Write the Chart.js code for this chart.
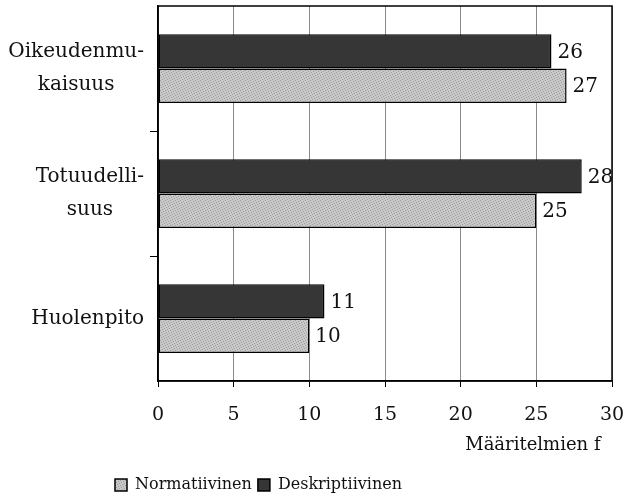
<!DOCTYPE html>
<html>
<head>
<meta charset="utf-8">
<script src="https://cdn.jsdelivr.net/npm/chart.js@4/dist/chart.umd.min.js"></script>
<style>
  html, body { margin: 0; padding: 0; background: #fff; }
  #wrap { width: 624px; height: 497px; }
</style>
</head>
<body>
<div id="wrap"><canvas id="c" width="624" height="497"></canvas></div>
<script>
// Categories (wrapped as in the printed figure) and counts per series
const categories = [['Oikeudenmu-', 'kaisuus'], ['Totuudelli-', 'suus'], 'Huolenpito'];
const deskriptiivinen = [26, 28, 11];
const normatiivinen = [27, 25, 10];
const xMin = 0, xMax = 30, xStep = 5;
const xTitle = 'Määritelmien f';

const FONT = "'DejaVu Serif', 'Liberation Serif', serif";

// stippled light-grey fill
function stipple() {
  const p = document.createElement('canvas');
  p.width = 5; p.height = 5;
  const g = p.getContext('2d');
  g.fillStyle = '#c8c8c8';
  g.fillRect(0, 0, 5, 5);
  g.fillStyle = '#9e9e9e';
  [[0, 0], [3, 1], [1, 2], [4, 3], [2, 4]].forEach(([x, y]) => g.fillRect(x, y, 1, 1));
  return g.createPattern(p, 'repeat');
}
const lightFill = stipple();

// outline the whole plotting area
const frame = {
  id: 'frame',
  beforeDatasetsDraw(chart) {
    const { ctx, chartArea: a } = chart;
    ctx.save();
    ctx.strokeStyle = '#000';
    ctx.lineWidth = 1.5;
    ctx.strokeRect(a.left, a.top, a.right - a.left, a.bottom - a.top);
    ctx.restore();
  }
};

// numeric value printed after each bar
const barValues = {
  id: 'barValues',
  afterDatasetsDraw(chart) {
    const { ctx } = chart;
    ctx.save();
    ctx.font = '20px ' + FONT;
    ctx.fillStyle = '#111';
    ctx.textAlign = 'left';
    ctx.textBaseline = 'middle';
    chart.data.datasets.forEach((ds, di) => {
      chart.getDatasetMeta(di).data.forEach((el, i) => {
        ctx.fillText(String(ds.data[i]), el.x + 6, el.y + 1);
      });
    });
    ctx.restore();
  }
};

// category labels: each block right-aligned to the axis, its lines centred
const categoryLabels = {
  id: 'categoryLabels',
  afterDraw(chart) {
    const { ctx } = chart;
    const ys = chart.scales.y;
    const right = ys.right - 14;
    const lh = 33;
    ctx.save();
    ctx.font = '20px ' + FONT;
    ctx.fillStyle = '#111';
    ctx.textAlign = 'center';
    ctx.textBaseline = 'middle';
    chart.data.labels.forEach((lab, i) => {
      const lines = Array.isArray(lab) ? lab : [lab];
      const w = Math.max(...lines.map(t => ctx.measureText(t).width));
      const cx = right - w / 2;
      const cy = ys.getPixelForTick(i);
      lines.forEach((t, j) => {
        ctx.fillText(t, cx, cy + (j - (lines.length - 1) / 2) * lh);
      });
    });
    ctx.restore();
  }
};

// place the legend under the axis title, slightly left of centre
const legendPlace = {
  id: 'legendPlace',
  afterLayout(chart) {
    const lg = chart.legend;
    if (!lg) return;
    const w = lg.right - lg.left;
    lg.left = 115 - lg.options.labels.padding;
    lg.right = lg.left + w;
    lg.top += 6;
    lg.bottom += 6;
  }
};

// scales keep no extra edge padding for their outer labels
function noEdgePadding(scale) {
  scale.paddingTop = 0;
  scale.paddingBottom = 0;
  scale.paddingLeft = 0;
  scale.paddingRight = 0;
}

new Chart(document.getElementById('c'), {
  type: 'bar',
  data: {
    labels: categories,
    datasets: [
      {
        label: 'Deskriptiivinen',
        data: deskriptiivinen,
        backgroundColor: '#363636',
        borderColor: '#000',
        borderWidth: 1.5,
        borderSkipped: false,
        categoryPercentage: 0.55,
        barPercentage: 1.0
      },
      {
        label: 'Normatiivinen',
        data: normatiivinen,
        backgroundColor: lightFill,
        borderColor: '#000',
        borderWidth: 1.5,
        borderSkipped: false,
        categoryPercentage: 0.55,
        barPercentage: 1.0
      }
    ]
  },
  options: {
    indexAxis: 'y',
    responsive: false,
    animation: false,
    devicePixelRatio: 1,
    layout: { padding: { top: 6, right: 12, left: 0, bottom: 0 } },
    scales: {
      x: {
        min: xMin,
        max: xMax,
        ticks: {
          stepSize: xStep,
          color: '#111',
          font: { family: FONT, size: 19 },
          padding: 17,
          maxRotation: 0
        },
        grid: {
          color: '#8a8a8a',
          lineWidth: 1,
          tickColor: '#000',
          tickLength: 6,
          tickWidth: 1
        },
        border: { display: true, color: '#000', width: 1.5 },
        title: {
          display: true,
          text: xTitle + '  ',
          align: 'end',
          color: '#111',
          font: { family: FONT, size: 18 },
          padding: { top: 0, bottom: 9 }
        },
        afterFit(scale) { scale.height = 84; noEdgePadding(scale); }
      },
      y: {
        ticks: { display: false },
        grid: {
          drawOnChartArea: false,
          tickLength: 8,
          tickWidth: 1,
          tickColor: (c) => (c.index === 1 || c.index === 2) ? '#000' : 'rgba(0,0,0,0)'
        },
        border: { display: true, color: '#000', width: 1.5 },
        afterFit(scale) { scale.width = 158; noEdgePadding(scale); }
      }
    },
    plugins: {
      legend: {
        position: 'bottom',
        align: 'start',
        reverse: true,
        labels: {
          color: '#111',
          font: { family: FONT, size: 16 },
          boxWidth: 12,
          boxHeight: 12,
          padding: 6
        }
      },
      tooltip: { enabled: false }
    }
  },
  plugins: [frame, barValues, categoryLabels, legendPlace]
});
</script>
</body>
</html>
